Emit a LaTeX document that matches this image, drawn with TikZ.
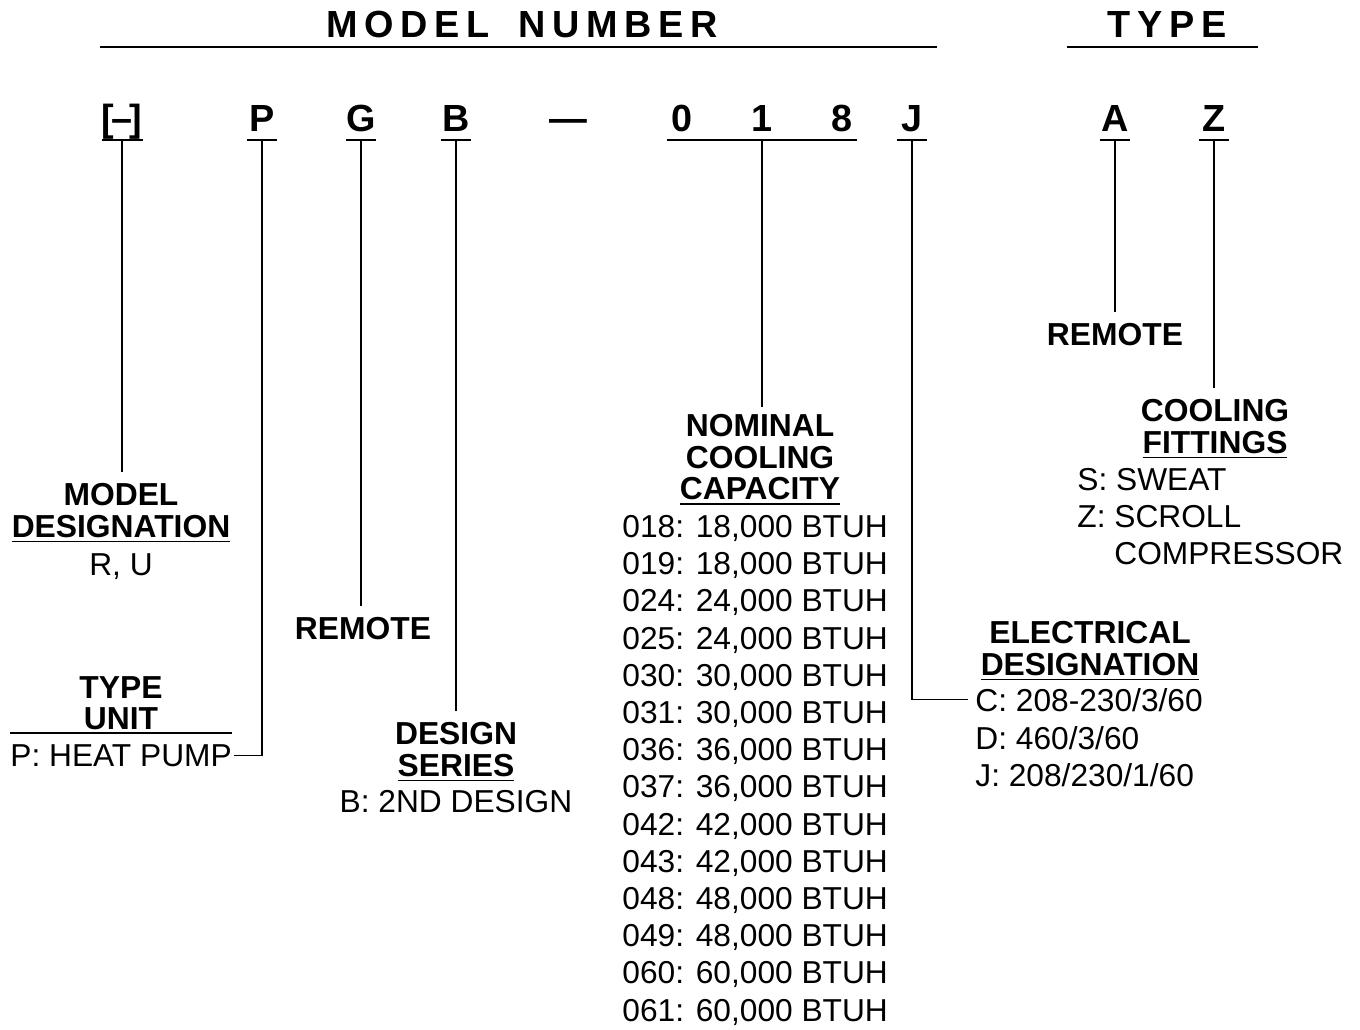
\documentclass[tikz,border=0pt]{standalone}
\usepackage{fontspec}
\setmainfont{Liberation Sans}
\newcommand{\titlefont}{\fontsize{18.9}{22}\selectfont\bfseries\addfontfeature{LetterSpace=18}}
\newcommand{\codefont}{\fontsize{18.9}{22}\selectfont\bfseries}
\newcommand{\headfont}{\fontsize{15.9}{15.75}\selectfont\bfseries}
\newcommand{\itemfont}{\fontsize{15.85}{18.6}\selectfont}
\newcommand{\hdul}[1]{\setbox0=\hbox{#1}\rlap{\rule[-2.6pt]{\wd0}{0.9pt}}\box0}

\begin{document}
\begin{tikzpicture}[x=0.5pt, y=-0.5pt,
    bigtitle/.style={font=\titlefont, inner sep=0pt, anchor=base},
    codechar/.style={font=\codefont, inner sep=0pt, anchor=base,
                     minimum width=15pt, text depth=4.5pt},
    headtxt/.style={font=\headfont, inner sep=0pt, anchor=north, align=center},
    itemtxt/.style={font=\itemfont, inner sep=0pt, anchor=base west},
    titlerule/.style={line width=1.4pt},
    charline/.style={line width=1pt},
    leader/.style={line width=0.75pt, shorten >=5.5pt}]
    % Model number breakdown, in pixel units (y grows downwards).
    %   titles on baseline y=37, rules at y=47
    %   code characters on baseline y=131, underlines at y=140
    %   leaders drop from each underline to its text block
    \useasboundingbox (0,0) rectangle (1360,1029);

    \node[bigtitle] (modelnum) at (522,37) {MODEL\hspace{5.5pt} NUMBER};
    \node[bigtitle] (typetitle) at (1167,37) {TYPE};
    \draw[titlerule] (100,47) -- (937,47);
    \draw[titlerule] (1067,47) -- (1258,47);

    \node[codechar] (bkt) at (122,131) {[\kern-1.5pt\textendash\kern-1.5pt]};
    \node[codechar] (p) at (262,131) {P};
    \node[codechar] (g) at (361,131) {G};
    \node[codechar] (b) at (456,131) {B};
    \node[codechar, text depth=0pt] (dash) at (568,131) {\textemdash};
    \node[codechar] (c0) at (682,131) {0};
    \node[codechar] (c1) at (762,131) {1};
    \node[codechar] (c8) at (842,131) {8};
    \node[codechar] (j) at (912,131) {J};
    \node[codechar] (a) at (1115,131) {A};
    \node[codechar] (z) at (1214,131) {Z};
    \foreach \c in {bkt,p,g,b,j,a,z}
      \draw[charline] (\c.south west) -- (\c.south east);
    \draw[charline] (c0.south west) -- (c8.south east);

    \node[headtxt] (modeldes) at (121,483) {MODEL\\\hdul{DESIGNATION}};
    \node[itemtxt, anchor=base] (ru) at (121,575) {R, U};
    \node[headtxt] (remoteg) at (363,617) {REMOTE};
    \node[headtxt] (typeunit) at (121,676) {TYPE\\UNIT};
    \node[itemtxt] (heatpump) at (10,766) {P: HEAT PUMP};
    \draw[charline] ([yshift=5.5pt]heatpump.north west) -- ([yshift=5.5pt]heatpump.north east);
    \node[headtxt] (designser) at (456,722) {DESIGN\\\hdul{SERIES}};
    \node[itemtxt, anchor=base] (bdesign) at (456,812) {B: 2ND DESIGN};

    \node[headtxt] (nominal) at (760,414) {NOMINAL\\COOLING\\\hdul{CAPACITY}};
    \node[itemtxt, anchor=north west, align=left] (caplist) at (622,515)
      {018: 18,000 BTUH\\019: 18,000 BTUH\\024: 24,000 BTUH\\025: 24,000 BTUH\\
       030: 30,000 BTUH\\031: 30,000 BTUH\\036: 36,000 BTUH\\037: 36,000 BTUH\\
       042: 42,000 BTUH\\043: 42,000 BTUH\\048: 48,000 BTUH\\049: 48,000 BTUH\\
       060: 60,000 BTUH\\061: 60,000 BTUH};

    \node[headtxt] (elecdes) at (1090,621) {ELECTRICAL\\\hdul{DESIGNATION}};
    \node[itemtxt] (elc) at (975,711) {C: 208-230/3/60};
    \node[itemtxt] (eld) at (975,749) {D: 460/3/60};
    \node[itemtxt] (elj) at (975,786) {J: 208/230/1/60};

    \node[headtxt] (remotea) at (1115,323) {REMOTE};
    \node[headtxt] (cooling) at (1215,399) {COOLING\\\hdul{FITTINGS}};
    \node[itemtxt, anchor=north west, align=left] (fitlist) at (1077,468)
      {S: SWEAT\\Z: SCROLL\\\hphantom{Z: }COMPRESSOR};

    \draw[leader] (bkt.south) -- (bkt.south |- modeldes.north);
    \draw[leader, shorten >=1pt] (p.south) |- (heatpump.east);
    \draw[leader] (g.south) -- (g.south |- remoteg.north);
    \draw[leader] (b.south) -- (b.south |- designser.north);
    \draw[leader, shorten >=3.5pt] (c1.south) -- (c1.south |- nominal.north);
    \draw[leader, shorten >=3.5pt] (j.south) |- (elc.west);
    \draw[leader] (a.south) -- (a.south |- remotea.north);
    \draw[leader] (z.south) -- (z.south |- cooling.north);
\end{tikzpicture}
\end{document}
